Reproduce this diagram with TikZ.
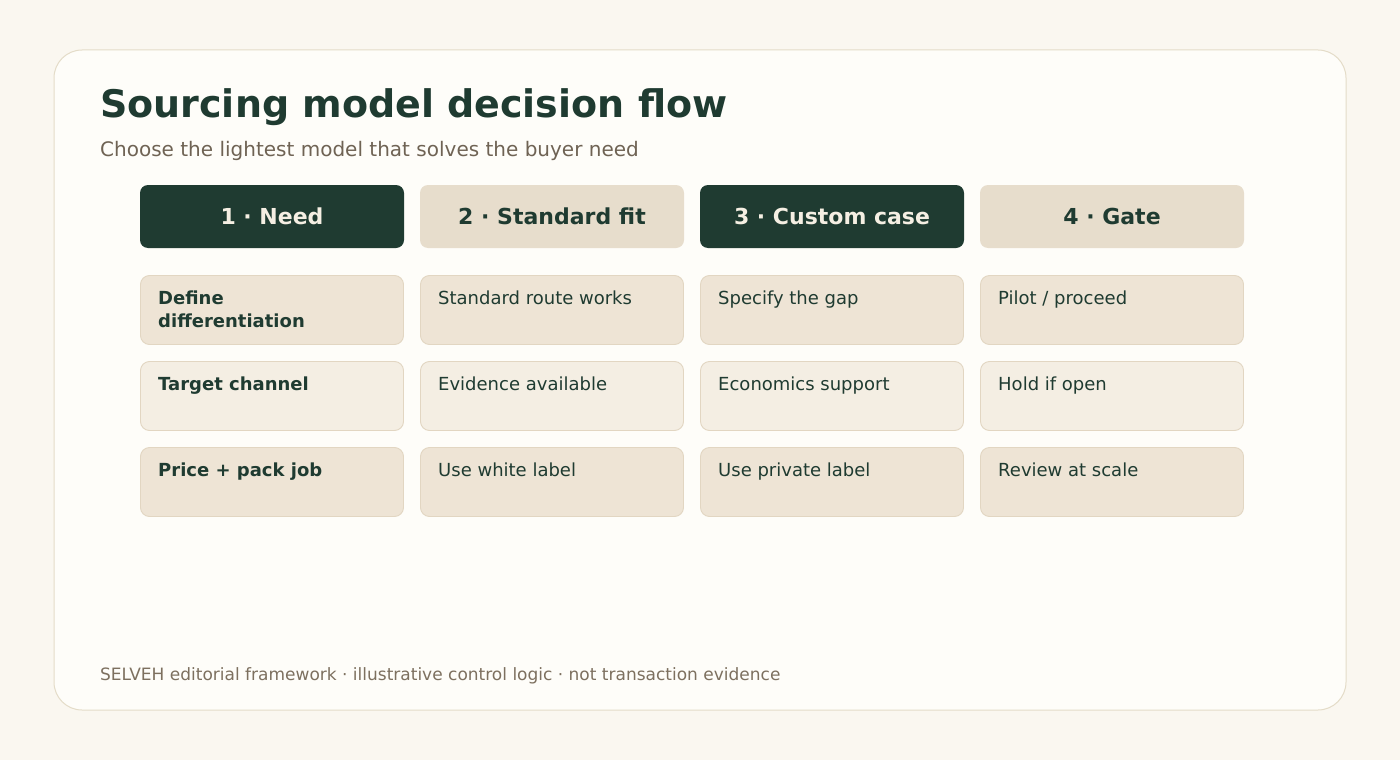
\documentclass[tikz,border=0pt]{standalone}
\usepackage{fontspec}
\setmainfont{DejaVu Sans}
\definecolor{page}{HTML}{FAF7F0}
\definecolor{card}{HTML}{FEFDF9}
\definecolor{cardline}{HTML}{E4DCC8}
\definecolor{pine}{HTML}{1F3B31}
\definecolor{cream}{HTML}{F5EFE3}
\definecolor{sand}{HTML}{E7DDCC}
\definecolor{cellA}{HTML}{EEE4D5}
\definecolor{cellB}{HTML}{F4EEE3}
\definecolor{cellline}{HTML}{E2D6C2}
\definecolor{muted}{HTML}{6F6354}
\definecolor{footgray}{HTML}{7D705F}
\begin{document}
\begin{tikzpicture}[x=1pt, y=-1pt,
	head/.style={rounded corners=8pt, minimum width=264pt, minimum height=63pt, inner sep=0pt, font=\fontsize{22}{26}\selectfont\bfseries},
	darkhead/.style={head, fill=pine, text=cream},
	lighthead/.style={head, fill=sand, text=pine},
	cell/.style={draw=cellline, line width=.9pt, rounded corners=9pt, minimum width=263pt, minimum height=69pt, inner sep=0pt},
	celltxt/.style={anchor=base west, inner sep=0pt, text=pine, font=\fontsize{18}{23}\selectfont, align=left}]
	\useasboundingbox[fill=page] (0,0) rectangle (1400,760);
	\draw[draw=cardline, fill=card, line width=1pt, rounded corners=28pt] (54,50) rectangle (1346,710);
	%titel
	\node[anchor=base west, inner sep=0pt, text=pine, font=\fontsize{38}{44}\selectfont\bfseries] (title) at (100,117) {Sourcing model decision flow};
	\node[anchor=base west, inner sep=0pt, text=muted, font=\fontsize{20}{24}\selectfont] (subtitle) at (100,156) {Choose the lightest model that solves the buyer need};
	%spalten
	\node[darkhead]  (h1) at (272,216.5)  {1 · Need};
	\node[lighthead] (h2) at (552,216.5)  {2 · Standard fit};
	\node[darkhead]  (h3) at (832,216.5)  {3 · Custom case};
	\node[lighthead] (h4) at (1112,216.5) {4 · Gate};
	%zellen
	\node[cell, fill=cellA] (c11) at (272,310)  {};
	\node[cell, fill=cellA] (c12) at (552,310)  {};
	\node[cell, fill=cellA] (c13) at (832,310)  {};
	\node[cell, fill=cellA] (c14) at (1112,310) {};
	\node[cell, fill=cellB] (c21) at (272,396)  {};
	\node[cell, fill=cellB] (c22) at (552,396)  {};
	\node[cell, fill=cellB] (c23) at (832,396)  {};
	\node[cell, fill=cellB] (c24) at (1112,396) {};
	\node[cell, fill=cellA] (c31) at (272,482)  {};
	\node[cell, fill=cellA] (c32) at (552,482)  {};
	\node[cell, fill=cellA] (c33) at (832,482)  {};
	\node[cell, fill=cellA] (c34) at (1112,482) {};
	%texte
	\node[celltxt, font=\fontsize{18}{23}\selectfont\bfseries] (t11) at (158,327) {Define\\differentiation};
	\node[celltxt] (t12) at (438,304) {Standard route works};
	\node[celltxt] (t13) at (718,304) {Specify the gap};
	\node[celltxt] (t14) at (998,304) {Pilot / proceed};
	\node[celltxt, font=\fontsize{18}{23}\selectfont\bfseries] (t21) at (158,390) {Target channel};
	\node[celltxt] (t22) at (438,390) {Evidence available};
	\node[celltxt] (t23) at (718,390) {Economics support};
	\node[celltxt] (t24) at (998,390) {Hold if open};
	\node[celltxt, font=\fontsize{18}{23}\selectfont\bfseries] (t31) at (158,476) {Price + pack job};
	\node[celltxt] (t32) at (438,476) {Use white label};
	\node[celltxt] (t33) at (718,476) {Use private label};
	\node[celltxt] (t34) at (998,476) {Review at scale};
	%fuss
	\node[anchor=base west, inner sep=0pt, text=footgray, font=\fontsize{17}{21}\selectfont] (foot) at (100,680) {SELVEH editorial framework · illustrative control logic · not transaction evidence};
\end{tikzpicture}
\end{document}
